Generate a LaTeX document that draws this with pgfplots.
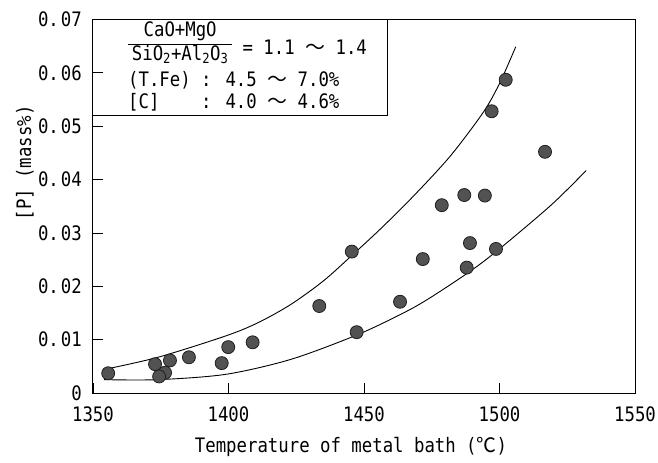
\documentclass[border=0pt]{standalone}
\usepackage{fontspec}
\usepackage{pgfplots}
\pgfplotsset{compat=1.18}
\setmainfont[FakeStretch=0.87]{DejaVu Sans Mono}
\newfontfamily\cjk{Noto Sans CJK JP}
\newcommand{\fracbox}{\vbox{\offinterlineskip\halign{\hfil##\hfil\cr
  \strut CaO+MgO\cr\noalign{\hrule height 1bp}
  \hbox to 104bp{\hfil\strut SiO\textsubscript{2}+Al\textsubscript{2}O\textsubscript{3}\hfil}\cr}}}

\pgfplotstableread{
T P
1355.6 0.0037
1372.9 0.0054
1378.4 0.0061
1376.6 0.0038
1374.4 0.0031
1385.4 0.0067
1397.5 0.0056
1399.9 0.0086
1408.9 0.0095
1433.5 0.0163
1445.5 0.0265
1447.3 0.0114
1463.3 0.0171
1471.7 0.0251
1478.7 0.0352
1487.0 0.0371
1494.6 0.0370
1489.1 0.0281
1498.7 0.0270
1487.9 0.0235
1497.1 0.0528
1502.3 0.0587
1516.8 0.0452
}\pointdata

\pgfplotstableread{
T P
1354 0.0044
1374 0.0067
1399 0.0107
1411 0.0132
1423 0.0166
1435 0.0210
1446 0.0260
1457 0.0312
1469 0.0373
1482 0.0445
1494 0.0526
1500 0.0580
1506 0.0649
}\upperdata

\pgfplotstableread{
T P
1354 0.0025
1374 0.0025
1399 0.0035
1423 0.0063
1447 0.0108
1463 0.0146
1473 0.0174
1488 0.0224
1499 0.0266
1519 0.0352
1532 0.0417
}\lowerdata

\begin{document}
\fontsize{20}{23}\selectfont
\begin{tikzpicture}
\useasboundingbox (-93bp,-70bp) rectangle (565bp,393bp);
\begin{axis}[
  at={(0,0)}, anchor=south west,
  scale only axis, width=542bp, height=373.5bp,
  xmin=1350, xmax=1550, ymin=0, ymax=0.07,
  xtick={1350,1400,1450,1500,1550},
  xticklabels={1350,1400,1450,1500,1550},
  ytick={0,0.01,0.02,0.03,0.04,0.05,0.06,0.07},
  yticklabels={0,0.\hspace{2bp}01,0.\hspace{2bp}02,0.\hspace{2bp}03,0.\hspace{2bp}04,0.\hspace{2bp}05,0.\hspace{2bp}06,0.\hspace{2bp}07},
  scaled y ticks=false,
  tick align=inside, xtick pos=bottom, ytick pos=left,
  major tick length=10bp,
  tick style={black, line width=0.8bp},
  axis line style={line width=1bp},
  yticklabel style={inner sep=0pt, xshift=-11bp},
  xticklabel style={inner sep=0pt, yshift=-14bp},
  xlabel={Temperature of metal bath ({\cjk ℃})},
  ylabel={[P] (mass\%)},
  xlabel style={at={(axis description cs:0.476,-0.1446)}, anchor=center, inner sep=0pt},
  ylabel style={at={(axis description cs:-0.1255,0.616)}, anchor=center, inner sep=0pt},
  clip=false,
]
\addplot[black, line width=0.9bp, smooth, no marks] table[x=T,y=P] {\upperdata};
\addplot[black, line width=0.9bp, smooth, no marks] table[x=T,y=P] {\lowerdata};
\addplot[only marks, mark=*, mark size=6.5bp, mark options={fill=black!68, draw=black!88, line width=0.8bp}] table[x=T,y=P] {\pointdata};
\draw[line width=1bp] (rel axis cs:0,1) rectangle (axis cs:1458.5,0.0521);
\node[anchor=base west, inner sep=0pt] at (axis cs:1362.9,0.0635)
  {\raisebox{5bp}{$\vcenter{\fracbox}$} = 1.1 {\cjk 〜} 1.4};
\node[anchor=base west, inner sep=0pt] at (axis cs:1362.9,0.0575)
  {(T.Fe) : 4.5 {\cjk 〜} 7.0\%};
\node[anchor=base west, inner sep=0pt] at (axis cs:1362.9,0.0534)
  {[C]\hphantom{Fe)} : 4.0 {\cjk 〜} 4.6\%};
\end{axis}
\end{tikzpicture}
\end{document}
